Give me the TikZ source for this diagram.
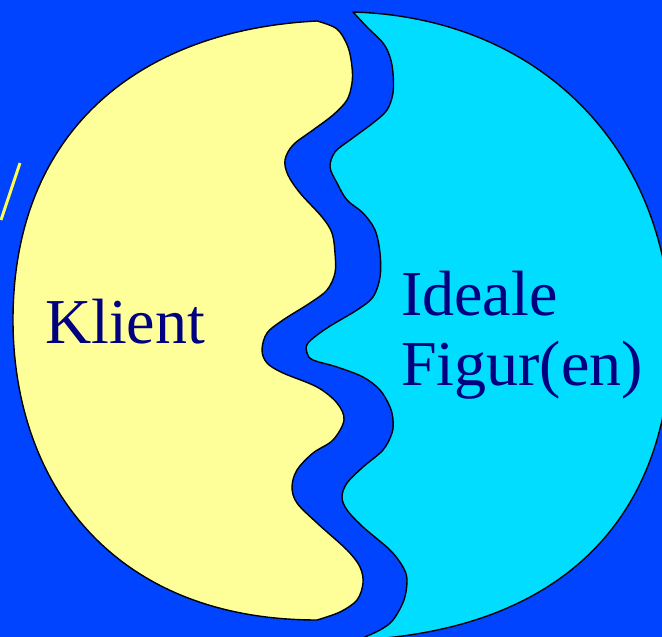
\documentclass[tikz,border=0pt]{standalone}
\usepackage{fontspec}
\setmainfont{Liberation Serif}
\definecolor{bgblue}{RGB}{0,68,255}
\definecolor{klientyellow}{RGB}{255,255,153}
\definecolor{idealcyan}{RGB}{0,221,255}
\definecolor{textnavy}{RGB}{0,0,128}
\definecolor{strokeyellow}{RGB}{255,255,80}
\tikzset{
  blob/.style={draw=black, line width=1.4pt, line join=round},
  label/.style={text=textnavy, font=\fontsize{64}{72}\selectfont, inner sep=0pt, anchor=base west}
}
\begin{document}
\begin{tikzpicture}[x=1pt,y=-1pt]
\useasboundingbox (0,0) rectangle (662,637);
\fill[bgblue] (0,0) rectangle (662,637);
\begin{scope}
\clip (0,0) rectangle (662,637);
% small yellow stroke at left
\coordinate (sa) at (20,163);
\coordinate (sb) at (1,220);
\draw[strokeyellow, line width=3pt] (sa) -- (sb);
% yellow shape (Klient)
\draw[blob, fill=klientyellow] (317,620) .. controls (110,620) and (13,480) .. (13,320)
  .. controls (13,130) and (140,30) .. (317,21)
  -- plot[smooth, tension=0.55] coordinates {
(317,21) (337,29) (348,47) (352,67) (352,83) (347,100) (333,115) (313,130) (293,145)
(285,160) (288,175) (300,193) (322,217) (332,233) (335,253) (335,273) (327,290) (310,303) (283,320)
(267,333) (262,350) (267,363) (283,373) (317,387) (337,403) (344,420) (333,440) (313,453) (297,470)
(292,487) (297,503) (317,523) (347,550) (360,567) (363,583) (357,600) (340,612) (317,620)} -- cycle;
% cyan shape (Ideale Figur(en))
\draw[blob, fill=idealcyan] (353,12) .. controls (550,18) and (671,160) .. (671,335)
  .. controls (671,520) and (560,630) .. (358,640)
  -- plot[smooth, tension=0.55] coordinates {
(358,640) (380,630) (393,620) (404,600) (407,580) (403,567) (390,550) (363,527) (347,510) (342,497)
(347,483) (363,467) (383,450) (392,433) (393,420) (390,407) (380,390) (363,377) (337,367) (313,360)
(307,353) (308,343) (327,328) (357,310) (373,297) (380,277) (380,253) (375,230) (363,213) (347,200)
(337,183) (330,167) (335,152) (350,140) (373,123) (387,110) (393,93) (393,73) (390,57) (383,43)
(367,27) (353,12)} -- cycle;
\end{scope}
\node[label] (klient) at (45,343) {Klient};
\node[label] (ideale) at (401,315) {Ideale};
\node[label] (figur) at (401,385) {Figur(en)};
\end{tikzpicture}
\end{document}
